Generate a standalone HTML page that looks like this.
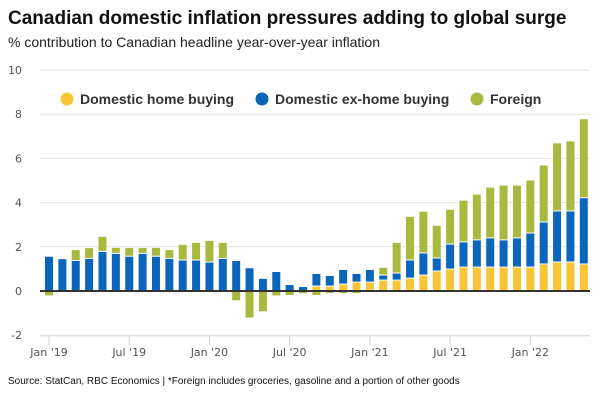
<!DOCTYPE html>
<html><head><meta charset="utf-8"><style>
body{margin:0;background:#fff;width:600px;height:400px;overflow:hidden;font-family:"Liberation Sans",sans-serif}
</style></head><body>
<svg width="600" height="400" xmlns="http://www.w3.org/2000/svg">
<text x="8" y="24" font-size="19" font-weight="bold" fill="#111">Canadian domestic inflation pressures adding to global surge</text>
<text x="8" y="47" font-size="14" fill="#222">% contribution to Canadian headline year-over-year inflation</text>
<g id="grid"></g><g id="bars"></g><g id="axis"></g>
<g font-size="14" font-weight="bold" fill="#333">
<g><circle cx="67" cy="99" r="6.5" fill="#F8C537"/><text x="80" y="104">Domestic home buying</text></g>
<g><circle cx="262" cy="99" r="6.5" fill="#0A66BB"/><text x="275" y="104">Domestic ex-home buying</text></g>
<g><circle cx="477" cy="99" r="6.5" fill="#A9B93F"/><text x="490" y="104">Foreign</text></g>
</g>
<text x="8" y="384" font-size="10" fill="#111">Source: StatCan, RBC Economics | *Foreign includes groceries, gasoline and a portion of other goods</text>
</svg>
<script>
const months=["Jan '19","Feb","Mar","Apr","May","Jun","Jul '19","Aug","Sep","Oct","Nov","Dec","Jan '20","Feb","Mar","Apr","May","Jun","Jul '20","Aug","Sep","Oct","Nov","Dec","Jan '21","Feb","Mar","Apr","May","Jun","Jul '21","Aug","Sep","Oct","Nov","Dec","Jan '22","Feb","Mar","Apr","May"];
const home=[0,0,0,0,0,0,0,0,0,0,0,0,0,0,0,0,0,0,0,0,0.2,0.2,0.29,0.38,0.38,0.47,0.47,0.56,0.7,0.88,0.97,1.06,1.06,1.06,1.06,1.06,1.06,1.2,1.29,1.29,1.2];
const exHome=[1.55,1.44,1.36,1.45,1.77,1.68,1.55,1.68,1.55,1.45,1.38,1.38,1.29,1.45,1.36,1.03,0.55,0.86,0.27,0.18,0.57,0.48,0.66,0.39,0.57,0.23,0.32,0.82,1.0,0.59,1.13,1.14,1.23,1.32,1.23,1.32,1.54,1.9,2.31,2.31,3.0];
const foreign=[-0.2,0,0.49,0.49,0.68,0.27,0.4,0.27,0.4,0.4,0.71,0.8,0.98,0.73,-0.42,-1.2,-0.92,-0.2,-0.18,-0.1,-0.18,-0.09,-0.09,-0.09,0,0.35,1.39,1.98,1.89,1.48,1.58,1.89,2.07,2.3,2.48,2.39,2.4,2.58,3.08,3.17,3.57];
const yTicks=[-2,0,2,4,6,8,10];
const tickIdx=[0,6,12,18,24,30,36];
const NS="http://www.w3.org/2000/svg";
const y=v=>291-v*22.1, x=i=>49+i*13.37;
function mk(t,a,p){const e=document.createElementNS(NS,t);for(const k in a)e.setAttribute(k,a[k]);p.appendChild(e);return e;}
const G=document.getElementById('grid'),B=document.getElementById('bars'),A=document.getElementById('axis');
yTicks.forEach(v=>{
 if(v!==-2&&v!==0){const l=mk('line',{x1:40,x2:590,y1:y(v),y2:y(v),stroke:'#e3e3e3'},G);
 
 }
 const t=mk('text',{x:22,y:y(v)+4,'font-size':11,fill:'#555','text-anchor':'end','font-family':'DejaVu Sans, sans-serif'},G);t.textContent=v;
 
 
});
months.forEach((m,i)=>{
 const cx=x(i),w=8;
 const segs=[[home[i],'#F8C537'],[exHome[i],'#0A66BB'],[foreign[i],'#A9B93F']];
 let pos=0,neg=0;
 segs.forEach(([v,c],k)=>{
  if(!v)return;let y0,y1;
  if(v>0){y0=y(pos+v);y1=y(pos);pos+=v;}else{y0=y(neg);y1=y(neg+v);neg+=v;}
  const r=mk('rect',{x:cx-w/2,y:y0,width:w,height:Math.max(0,y1-y0-(v>0&&pos-v>0?1:0)),fill:c},B);
  
  
 });
});
const z=mk('line',{x1:40,x2:590,y1:y(0),y2:y(0),stroke:'#333','stroke-width':2},A);


const ax=mk('line',{x1:40,x2:590,y1:y(-2)+0.5,y2:y(-2)+0.5,stroke:'#c8d0dc'},A);


tickIdx.forEach(i=>{
 const tk=mk('line',{x1:x(i),x2:x(i),y1:y(-2),y2:y(-2)+10,stroke:'#c8d0dc'},A);
 
 
 const t=mk('text',{x:x(i),y:356,'font-size':11,fill:'#555','text-anchor':'middle','font-family':'DejaVu Sans, sans-serif'},A);t.textContent=months[i];
 
 
});
</script>
</body></html>
